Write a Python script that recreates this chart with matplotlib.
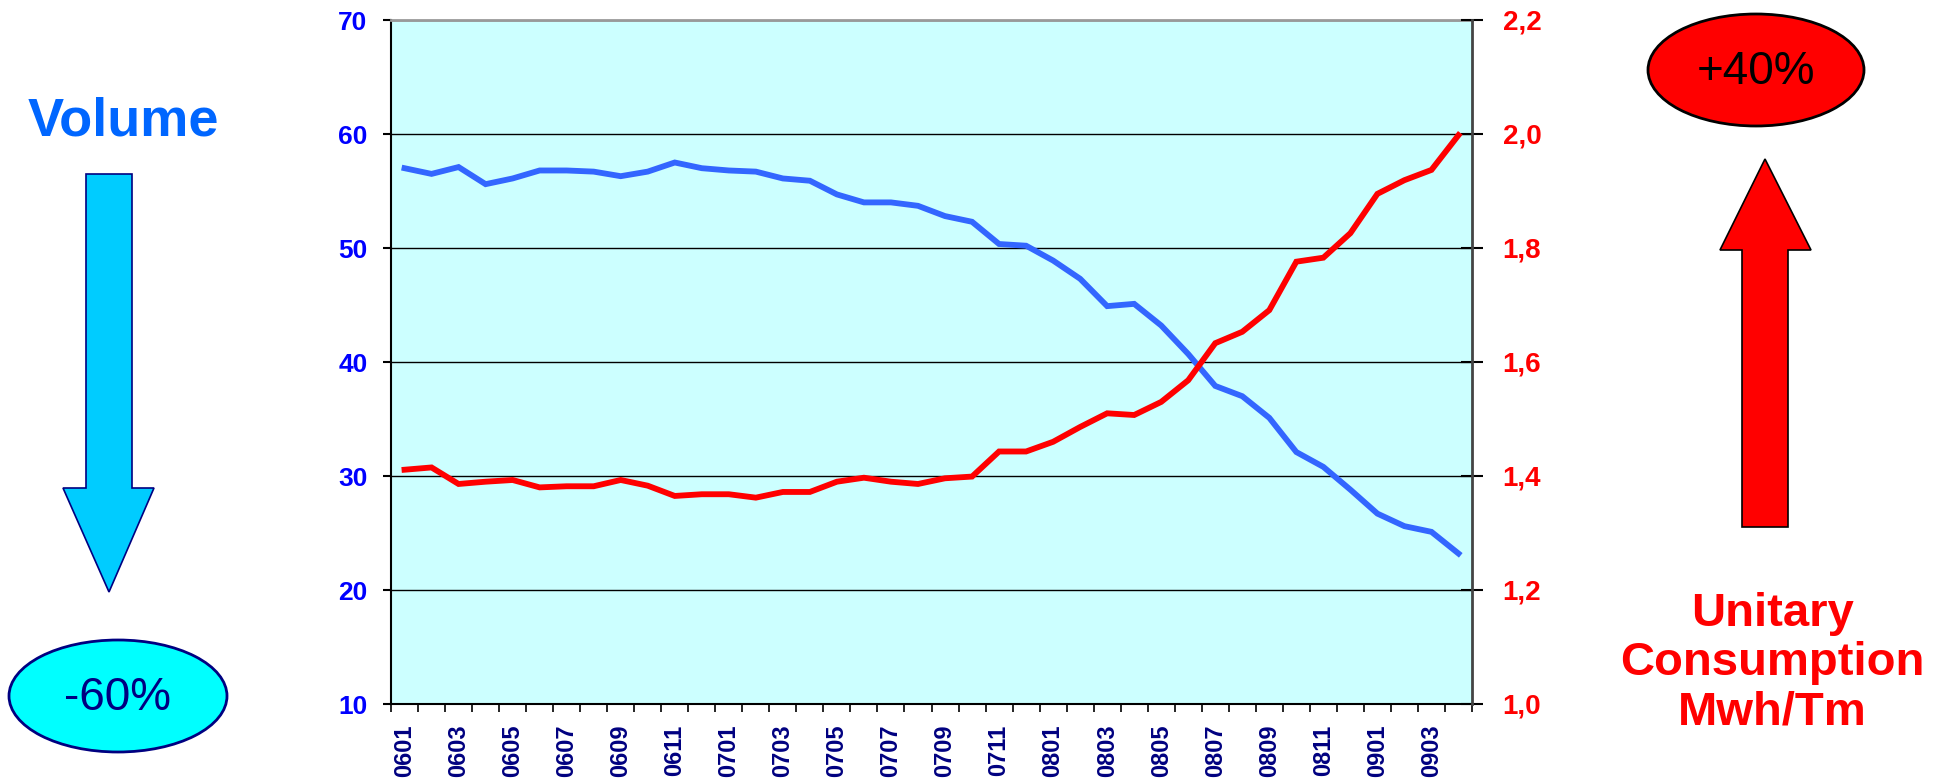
import numpy as np
import matplotlib.pyplot as plt
from matplotlib.patches import Polygon, Ellipse

plt.rcParams['font.family'] = ['Liberation Sans', 'DejaVu Sans']

# monthly data 0601 .. 0904
months = [f'{y:02d}{m:02d}' for y in (6, 7, 8) for m in range(1, 13)] + ['0901', '0902', '0903', '0904']

volume = [57.0, 56.5, 57.1, 55.6, 56.1, 56.8, 56.8, 56.7, 56.3, 56.7,
          57.5, 57.0, 56.8, 56.7, 56.1, 55.9, 54.7, 54.0, 54.0, 53.7,
          52.8, 52.3, 50.35, 50.2, 48.9, 47.3, 44.9, 45.1, 43.2, 40.7,
          37.9, 37.0, 35.1, 32.1, 30.8, 28.8, 26.7, 25.6, 25.1, 23.2]

consumption = [1.411, 1.415, 1.386, 1.390, 1.393, 1.380, 1.382, 1.382, 1.393, 1.383,
               1.365, 1.368, 1.368, 1.362, 1.372, 1.372, 1.390, 1.397, 1.390, 1.386,
               1.396, 1.399, 1.443, 1.443, 1.460, 1.486, 1.510, 1.507, 1.530, 1.568,
               1.633, 1.653, 1.691, 1.776, 1.783, 1.826, 1.895, 1.919, 1.937, 1.998]

left_ticks = [10, 20, 30, 40, 50, 60, 70]
right_ticks = [1.0, 1.2, 1.4, 1.6, 1.8, 2.0, 2.2]
right_labels = ['1,0', '1,2', '1,4', '1,6', '1,8', '2,0', '2,2']

W, H = 1946, 781
fig = plt.figure(figsize=(W / 100, H / 100), dpi=100)

ax = fig.add_axes([391 / W, 1 - 704 / H, (1472 - 391) / W, (704 - 20) / H])
ax.set_facecolor('#CCFFFF')
x = np.arange(len(months))
ax.plot(x, volume, color='#3366FF', lw=4.2, solid_joinstyle='miter', zorder=3)
ax.set_xlim(-0.5, len(months) - 0.5)
ax.set_ylim(10, 70)
ax.set_yticks(left_ticks)
ax.set_yticklabels([str(t) for t in left_ticks], color='#0000FF', fontsize=19, fontweight='bold')
ax.yaxis.grid(True, color='black', lw=1)
ax.set_axisbelow(True)
ax.tick_params(axis='y', direction='out', length=6, width=1.5, pad=11)

ax.set_xticks(x[::2])
ax.set_xticklabels(months[::2], rotation=90, color='#000080', fontsize=17, fontweight='bold')
ax.set_xticks(np.arange(-0.5, len(months)), minor=True)
ax.tick_params(axis='x', which='major', length=0, pad=15)
ax.tick_params(axis='x', which='minor', direction='out', length=6, width=1.2)

for s in ['left', 'bottom']:
    ax.spines[s].set_color('black')
    ax.spines[s].set_linewidth(1.5)
ax.spines['top'].set_color('#999999')
ax.spines['top'].set_linewidth(2)
ax.spines['right'].set_visible(False)

ax2 = ax.twinx()
ax2.plot(x, consumption, color='#FF0000', lw=4.2, solid_joinstyle='miter', zorder=4)
ax2.set_ylim(1.0, 2.2)
ax2.set_yticks(right_ticks)
ax2.set_yticklabels(right_labels, color='#FF0000', fontsize=20, fontweight='bold')
ax2.tick_params(axis='y', direction='inout', length=16, width=1.5, pad=14)
ax2.spines['right'].set_color('#444444')
ax2.spines['right'].set_linewidth(2)
for s in ['left', 'top', 'bottom']:
    ax2.spines[s].set_visible(False)

# decorations in pixel coordinates
ov = fig.add_axes([0, 0, 1, 1], zorder=-1)
ov.set_xlim(0, W)
ov.set_ylim(H, 0)
ov.axis('off')

ov.text(123, 122, 'Volume', color='#0066FF', fontsize=39, fontweight='bold', ha='center', va='center')
ov.add_patch(Polygon([(86, 174), (132, 174), (132, 488), (154, 488), (109, 592),
                      (63, 488), (86, 488)], closed=True, fc='#00CCFF', ec='#000080', lw=1.2))
ov.add_patch(Ellipse((118, 696), 218, 112, fc='#00FFFF', ec='#000080', lw=2))
ov.text(118, 698, '-60%', color='#000080', fontsize=33, ha='center', va='center')

ov.add_patch(Ellipse((1756, 70), 216, 112, fc='#FF0000', ec='black', lw=2))
ov.text(1756, 72, '+40%', color='black', fontsize=33, ha='center', va='center')
ov.add_patch(Polygon([(1765, 159), (1811, 250), (1788, 250), (1788, 527), (1742, 527),
                      (1742, 250), (1720, 250)], closed=True, fc='#FF0000', ec='black', lw=1.2))
ov.text(1772, 663, 'Unitary\nConsumption\nMwh/Tm', color='#FF0000', fontsize=34,
        fontweight='bold', ha='center', va='center', linespacing=1.15)

fig.savefig('out.png', dpi=100)
